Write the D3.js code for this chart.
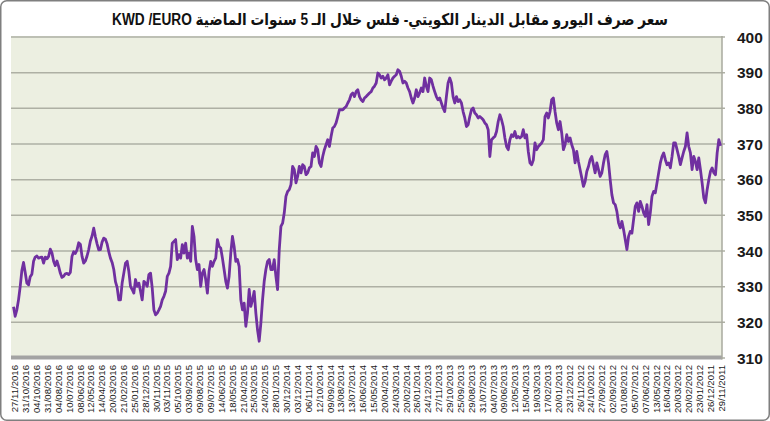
<!DOCTYPE html>
<html>
<head>
<meta charset="utf-8">
<script src="https://cdn.jsdelivr.net/npm/d3@7"></script>
<style>
  body { margin: 0; background: #fff; }
  svg { display: block; }
</style>
</head>
<body>
<div id="chart"></div>
<script>
var width = 770, height = 421;

var title = "سعر صرف اليورو مقابل الدينار الكويتي- فلس خلال الـ 5 سنوات الماضية KWD /EURO";

// categories, newest first (as on the axis, left to right)
var categories = [
  "27/11/2016","31/10/2016","04/10/2016","31/08/2016","04/08/2016","10/07/2016","08/06/2016","12/05/2016",
  "14/04/2016","20/03/2016","21/02/2016","25/01/2016","28/12/2015","30/11/2015","03/11/2015","05/10/2015",
  "03/09/2015","09/08/2015","09/07/2015","14/06/2015","18/05/2015","21/04/2015","25/03/2015","24/02/2015",
  "28/01/2015","30/12/2014","03/12/2014","06/11/2014","12/10/2014","09/09/2014","13/08/2014","13/07/2014",
  "16/06/2014","15/05/2014","20/04/2014","24/03/2014","20/02/2014","26/01/2014","24/12/2013","27/11/2013",
  "29/10/2013","25/09/2013","29/08/2013","31/07/2013","04/07/2013","09/06/2013","12/05/2013","15/04/2013",
  "19/03/2013","17/02/2013","20/01/2013","23/12/2012","26/11/2012","24/10/2012","27/09/2012","02/09/2012",
  "01/08/2012","05/07/2012","07/06/2012","13/05/2012","16/04/2012","20/03/2012","20/02/2012","23/01/2012",
  "26/12/2011","29/11/2011"
];

// fils per euro, same order as the axis (newest on the left)
var values = [
  324.4,321.7,323.5,326.3,330,334.5,336.8,334,331,330.5,332.8,333.5,337.1,338.3,338.6,338,338.2,338.3,336.6,338.3,
  337.8,338.5,340.5,339.5,337.1,335.9,337.2,335.7,333.8,332.6,332.9,333.6,333.7,333.4,334,338.5,339.8,339.3,340.3,342.3,
  341.9,338.5,336.6,337.2,338.6,340.4,342.8,344.2,346.4,344,342,340.3,340.4,342.5,343.6,343.3,342,339.8,338,336.8,
  334.8,331.4,329.8,326.3,
  326.3,331,333.8,336.6,337.1,334.3,330.1,329.2,328.2,332,330.1,331,328.7,326.3,331.5,331,330.1,333.4,333.8,329.6,
  323.5,322.1,322.6,323.5,324.5,326.3,327.3,328.7,332.9,333.8,335.7,342.2,342.7,343.2,337.6,339,338,341.8,339.4,342.2,
  338,339.4,337.1,346.9,344.1,337.6,334.8,336.2,330.1,333.8,334.8,332,328.2,334.3,337.1,335.7,337.1,338,343.2,341.3,
  340.8,338,334.8,331.5,329.6,332.9,339.4,344.1,341.3,337.1,337.6,335.7,326.3,323.5,325.4,318.9,322.6,329.2,324.5,326.3,
  328.7,322.6,317.9,314.7,319.8,326.3,331.5,334.8,337.1,337.6,334.8,334.8,337.6,332.9,329.2,340.4,346.9,
  347.8,350.7,355.3,356.7,357.2,358.6,363.7,362.8,359.1,360.9,363.7,361.9,364.2,363.7,361.4,361.9,363.3,363.7,367.5,366.5,
  369.3,368.4,364.7,363.7,366.5,368.4,369.8,371.2,369.3,372.1,374.5,374.9,375.9,377.7,379.6,379.6,379.6,380.1,380.5,381.5,
  382.4,383.8,384.3,383.3,384.7,385.2,383.3,382.4,381.9,382.9,383.3,383.8,384.3,384.7,385.7,386.2,387.1,389.9,389.4,388.5,
  389,388,388.5,389.4,386.6,387.6,388.5,389,389.4,390.8,390.4,
  389,387.1,387.6,387.1,385.7,384.7,382.9,381.5,382.9,385.2,383.3,384.3,385.7,384.7,388.5,386.2,384.7,388.5,388,386.2,
  384.7,383.3,382.4,382.9,381.5,380.1,379.1,383.3,387.1,388.5,387.1,383.3,381.5,383.3,381.9,382.4,381.5,379.1,377.3,374.9,
  375.4,377.7,379.6,380.1,378.7,378.2,377.3,377.7,377.3,376.8,375.9,375.4,374,366.5,371.2,371.7,372.1,373.5,376.3,378.2,
  376.8,374.9,371.7,369.3,368.4,371.2,372.6,372.1,373.5,371.7,372.1,371.7,372.1,374,371.7,372.6,367.9,364.7,364.2,365.5,
  370.3,368.4,369.3,
  369.8,370.3,371.2,377.7,378.7,377.3,379.1,382.4,382.9,379.1,375.9,374,376.3,373.1,368.4,369.8,372.6,370.7,371.7,369.8,
  368.4,364.7,367.9,365.1,362.8,360.5,358.1,359.5,362.3,363.7,365.6,366.5,364.2,361.9,364.7,362.8,360.9,361.9,364.7,367,
  367.9,364.7,360,355.8,353.5,353,351.1,347.9,346.5,348.3,346,343.2,340.4,344.1,345.5,345,348.8,352.5,353.5,351.1,
  353.9,
  352.5,350.7,349.7,353,347.4,350.7,355.3,356.7,356.3,359.1,361.9,364.7,366.5,367.5,365.6,364.2,364.7,363.3,366.5,370.3,
  370.3,368.4,366.5,364.2,366.1,367.9,369.3,373.1,369.3,367.5,362.8,366.5,365.1,362.8,366.1,362.8,359.1,354.9,353.5,357.2,
  360,362.3,363.3,361.9,361.4,367.5,371.2,369.5
];

var yTicks = [310, 320, 330, 340, 350, 360, 370, 380, 390, 400];

var plot = { left: 11, right: 722, top: 37, bottom: 358 };

var svg = d3.select("#chart")
    .append("svg")
    .attr("width", width)
    .attr("height", height);

svg.append("rect")
    .attr("x", 0.75).attr("y", 0.75)
    .attr("width", width - 1.5).attr("height", height - 1.5)
    .attr("rx", 6)
    .attr("fill", "#fff")
    .attr("stroke", "#7f7f7f")
    .attr("stroke-width", 1.5);

var x = d3.scaleLinear()
    .domain([0, values.length - 1])
    .range([13.5, 720.5]);

var xLab = d3.scalePoint()
    .domain(categories)
    .range([15, 721.5]);

var y = d3.scaleLinear()
    .domain([310, 400])
    .range([plot.bottom, plot.top]);

// plot background
svg.append("rect")
    .attr("x", plot.left).attr("y", plot.top - 1)
    .attr("width", plot.right - plot.left)
    .attr("height", plot.bottom - plot.top + 1)
    .attr("fill", "#ecefe1");

// gridlines
svg.append("g").selectAll("line")
    .data(yTicks)
    .enter().append("line")
    .attr("x1", plot.left)
    .attr("x2", plot.right + 3)
    .attr("y1", function(d) { return y(d); })
    .attr("y2", function(d) { return y(d); })
    .attr("stroke", "#aeb0a4")
    .attr("stroke-width", 1.5);

// floor band
svg.append("rect")
    .attr("x", plot.left).attr("y", plot.bottom - 2.5)
    .attr("width", plot.right - plot.left)
    .attr("height", 4)
    .attr("fill", "#a3a3a3");

// right axis line
svg.append("line")
    .attr("x1", plot.right).attr("x2", plot.right)
    .attr("y1", plot.top - 1).attr("y2", plot.bottom + 1.5)
    .attr("stroke", "#a8aa9e")
    .attr("stroke-width", 1.5);

// y labels
svg.append("g").selectAll("text")
    .data(yTicks)
    .enter().append("text")
    .attr("x", 737)
    .attr("y", function(d) { return y(d); })
    .attr("dy", "0.36em")
    .style("font-family", "'Liberation Sans', Arial, sans-serif")
    .style("font-weight", "bold")
    .style("font-size", "15.5px")
    .attr("fill", "#1a1a1a")
    .text(function(d) { return d; });

// x labels (rotated)
svg.append("g").selectAll("text")
    .data(categories)
    .enter().append("text")
    .attr("transform", function(d) { return "translate(" + (xLab(d) + 3.3) + ",365) rotate(-90)"; })
    .style("text-anchor", "end")
    .style("font-family", "'Liberation Sans', Arial, sans-serif")
    .style("font-size", "9.6px")
    .attr("fill", "#1a1a1a")
    .text(function(d) { return d; });

// the line
var valueline = d3.line()
    .x(function(d, i) { return x(i); })
    .y(function(d) { return y(d); });

svg.append("path")
    .datum(values)
    .attr("d", valueline)
    .attr("fill", "none")
    .attr("stroke", "#7030a0")
    .attr("stroke-width", 2.8)
    .attr("stroke-linejoin", "round");

// title
svg.append("text")
    .attr("x", 390)
    .attr("y", 25)
    .attr("direction", "rtl")
    .attr("textLength", 556)
    .attr("lengthAdjust", "spacingAndGlyphs")
    .style("text-anchor", "middle")
    .style("font-family", "'Liberation Sans', Arial, 'DejaVu Sans', sans-serif")
    .style("font-weight", "bold")
    .style("font-size", "16px")
    .attr("fill", "#111")
    .text(title);
</script>
</body>
</html>
